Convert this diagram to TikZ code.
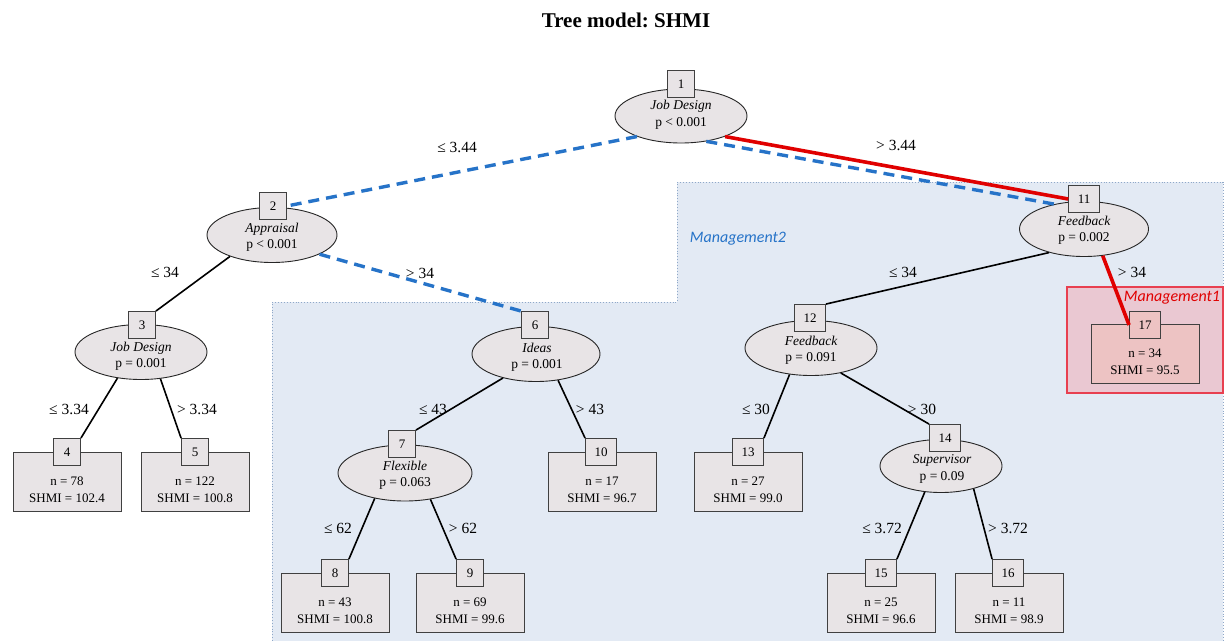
\documentclass[tikz,border=0pt]{standalone}
\usepackage{fontspec}
\setmainfont{Liberation Serif}
\newfontfamily\mgfont{Carlito}
\usetikzlibrary{shapes.geometric}
\definecolor{nodefill}{HTML}{E8E4E6}
\definecolor{mgfill}{HTML}{E3EAF4}
\definecolor{mgborder}{HTML}{8FA8C8}
\definecolor{bluedash}{HTML}{2673C8}
\definecolor{redline}{HTML}{E00000}
\definecolor{mofill}{HTML}{EAC8D2}
\definecolor{moborder}{HTML}{E84050}
\definecolor{leafred}{HTML}{EDC3C3}
\tikzset{
  ell/.style={ellipse, draw=black!85, line width=0.9pt, fill=nodefill, inner sep=0pt},
  elltext/.style={align=center, inner sep=0pt, font=\fontsize{13.5}{16.5}\selectfont},
  sq/.style={rectangle, draw=black!75, line width=0.9pt, fill=nodefill, minimum width=27pt, minimum height=27pt, inner xsep=9pt, inner ysep=0pt, font=\fontsize{13}{15}\selectfont},
  leafbox/.style={rectangle, draw=black!75, line width=0.9pt, fill=nodefill, minimum width=108pt, minimum height=59pt, inner sep=0pt},
  leaftext/.style={align=center, font=\fontsize{13}{16.5}\selectfont, inner sep=0pt},
  elbl/.style={font=\fontsize{15.5}{18}\selectfont, inner sep=0pt},
  bl/.style={draw=black, line width=1.6pt},
  bd/.style={draw=bluedash, line width=3.4pt, dash pattern=on 11pt off 7pt},
  rd/.style={draw=redline, line width=3.6pt},
}
\begin{document}
\begin{tikzpicture}[x=1pt,y=-1pt]
\useasboundingbox (0,0) rectangle (1225,640);
\fill[white] (0,0) rectangle (1225,640);
% regions
\draw[mgborder, line width=0.9pt, dotted, fill=mgfill] (272,641) -- (272,302) -- (677,302) -- (677,182) -- (1223,182) -- (1223,641);
\draw[moborder, line width=1.2pt, fill=mofill] (1067,287) rectangle (1223,393);
\node[font=\mgfont\itshape\fontsize{16}{18}\selectfont, text=bluedash, inner sep=0pt] (mg2) at (738,239) {Management2};
\node[font=\mgfont\itshape\fontsize{16}{18}\selectfont, text=redline, inner sep=0pt] (mg1) at (1172,298) {Management1};
% title
\node[font=\bfseries\fontsize{21}{24}\selectfont, inner sep=0pt] (title) at (626,20) {Tree model:\ SHMI};

% inner nodes
\node[ell, minimum width=132pt, minimum height=54pt] (n1) at (681,116) {};
\node[ell, minimum width=130pt, minimum height=55pt] (n2) at (272,235) {};
\node[ell, minimum width=132pt, minimum height=55pt] (n3) at (141,352) {};
\node[ell, minimum width=128pt, minimum height=55pt] (n6) at (536,354) {};
\node[ell, minimum width=134pt, minimum height=56pt] (n7) at (405,473) {};
\node[ell, minimum width=129pt, minimum height=55pt] (n11) at (1084,229) {};
\node[ell, minimum width=132pt, minimum height=55pt] (n12) at (811,348) {};
\node[ell, minimum width=122pt, minimum height=53pt] (n14) at (941,466) {};
\node[elltext] (e1) at (681,115) {\itshape Job Design\\p < 0.001};
\node[elltext] (e2) at (272,237) {\itshape Appraisal\\p < 0.001};
\node[elltext] (e3) at (141,356) {\itshape Job Design\\p = 0.001};
\node[elltext] (e6) at (537,357) {\itshape Ideas\\p = 0.001};
\node[elltext] (e7) at (405,475) {\itshape Flexible\\p = 0.063};
\node[elltext] (e11) at (1084,230) {\itshape Feedback\\p = 0.002};
\node[elltext] (e12) at (811,350) {\itshape Feedback\\p = 0.091};
\node[elltext] (e14) at (942,469) {\itshape Supervisor\\p = 0.09};

% leaf boxes
\node[leafbox] (b4) at (67,482) {};
\node[leafbox] (b5) at (195,482) {};
\node[leafbox] (b8) at (335,603) {};
\node[leafbox] (b9) at (470,603) {};
\node[leafbox] (b10) at (602,482) {};
\node[leafbox] (b13) at (748,482) {};
\node[leafbox] (b15) at (881,603) {};
\node[leafbox] (b16) at (1009,603) {};
\node[leafbox, fill=leafred] (b17) at (1145,354) {};
\node[leaftext] (t4) at (67,490) {n = 78\\SHMI = 102.4};
\node[leaftext] (t5) at (195,490) {n = 122\\SHMI = 100.8};
\node[leaftext] (t8) at (335,611) {n = 43\\SHMI = 100.8};
\node[leaftext] (t9) at (470,611) {n = 69\\SHMI = 99.6};
\node[leaftext] (t10) at (602,490) {n = 17\\SHMI = 96.7};
\node[leaftext] (t13) at (748,490) {n = 27\\SHMI = 99.0};
\node[leaftext] (t15) at (881,611) {n = 25\\SHMI = 96.6};
\node[leaftext] (t16) at (1009,611) {n = 11\\SHMI = 98.9};
\node[leaftext] (t17) at (1145,362) {n = 34\\SHMI = 95.5};

% squares
\node[sq] (s1) at (681,84) {1};
\node[sq] (s2) at (273,206) {2};
\node[sq] (s3) at (142,325) {3};
\node[sq] (s4) at (67,452) {4};
\node[sq] (s5) at (195,452) {5};
\node[sq] (s6) at (535,325) {6};
\node[sq] (s7) at (402,444) {7};
\node[sq] (s8) at (335,573) {8};
\node[sq] (s9) at (470,573) {9};
\node[sq] (s10) at (601,452) {10};
\node[sq] (s11) at (1084,199) {11};
\node[sq] (s12) at (810,318) {12};
\node[sq] (s13) at (748,452) {13};
\node[sq] (s14) at (945,438) {14};
\node[sq] (s15) at (881,573) {15};
\node[sq] (s16) at (1008,573) {16};
\node[sq, fill=leafred] (s17) at (1145,325) {17};

% highlighted edges
\draw[bd] (n1.205) -- (s2.east);
\draw[bd] (n2.-22) -- (s6.north west);
\draw[bd] (n1.-45) -- (n11.140);
\draw[rd] (n1.-25) -- (s11.west);
\draw[rd] (n11.-55) -- (s17.west);

% black edges
\draw[bl] (n2.207) -- (s3.north east);
\draw[bl] (n3.228) -- (s4.north east);
\draw[bl] (n3.-54) -- (s5.north west);
\draw[bl] (n6.216) -- (s7.north east);
\draw[bl] (n6.-50) -- (s10.north west);
\draw[bl] (n7.220) -- (s8.north east);
\draw[bl] (n7.-46) -- (s9.north west);
\draw[bl] (n11.214) -- (s12.north east);
\draw[bl] (n12.231) -- (s13.north east);
\draw[bl] (n12.-40) -- (s14.north west);
\draw[bl] (n14.238) -- (s15.north east);
\draw[bl] (n14.-35) -- (s16.north west);

% edge labels
\node[elbl] (l12) at (457,147) {≤ 3.44};
\node[elbl] (l111) at (896,145) {> 3.44};
\node[elbl] (l23) at (165,272) {≤ 34};
\node[elbl] (l26) at (420,273) {> 34};
\node[elbl] (l1112) at (903,272) {≤ 34};
\node[elbl] (l1117) at (1132,272) {> 34};
\node[elbl] (l34) at (69,409) {≤ 3.34};
\node[elbl] (l35) at (197,409) {> 3.34};
\node[elbl] (l67) at (433,409) {≤ 43};
\node[elbl] (l610) at (590,409) {> 43};
\node[elbl] (l78) at (338,528) {≤ 62};
\node[elbl] (l79) at (463,528) {> 62};
\node[elbl] (l1213) at (756,409) {≤ 30};
\node[elbl] (l1214) at (922,409) {> 30};
\node[elbl] (l1415) at (882,528) {≤ 3.72};
\node[elbl] (l1416) at (1008,528) {> 3.72};
\end{tikzpicture}
\end{document}
